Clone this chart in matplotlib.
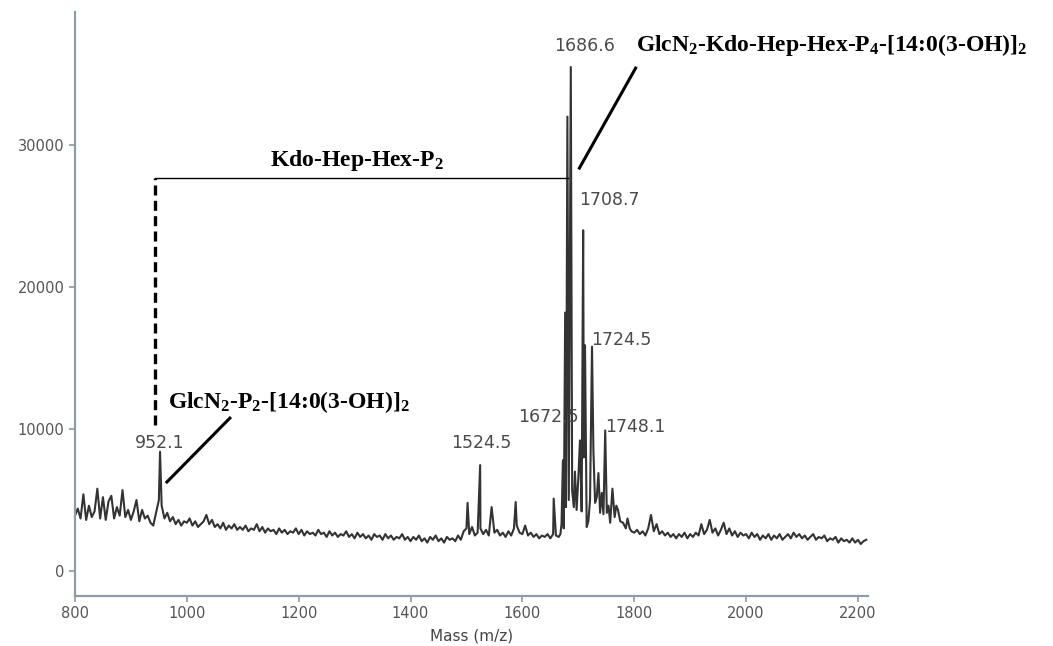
import numpy as np
import matplotlib
matplotlib.use("Agg")
import matplotlib.pyplot as plt

# mathtext subscripts in bold serif, to match the annotation text
plt.rcParams['mathtext.fontset'] = 'custom'
plt.rcParams['mathtext.rm'] = 'Liberation Serif:bold'
plt.rcParams['mathtext.it'] = 'Liberation Serif:italic:bold'
plt.rcParams['mathtext.bf'] = 'Liberation Serif:bold'

# baseline spectrum, read every 5 m/z from 800 to 2215
base_mass = np.arange(800, 2216, 5)
base_int = [
    3900, 4400, 3700, 5400, 3600, 4600, 3800, 4200, 5800, 3700, 5200, 3600, 4900, 5300, 3700, 4500, 3900, 5700, 3800, 4300,
    3600, 4200, 5000, 3500, 4300, 3700, 3900, 3400, 3200, 4100, 5000, 4600, 3700, 4100, 3500, 3800, 3300, 3600, 3200, 3500,
    3400, 3700, 3200, 3500, 3100, 3300, 3500, 3950, 3300, 3600, 3100, 3300, 3000, 3400, 2900, 3200, 3000, 3300, 2900, 3100,
    2900, 3200, 2800, 3000, 2900, 3300, 2800, 3100, 2700, 3000, 2800, 2900, 2600, 3000, 2700, 2900, 2600, 2800, 2700, 3000,
    2600, 2900, 2500, 2800, 2600, 2700, 2500, 2900, 2600, 2700, 2400, 2800, 2500, 2700, 2400, 2600, 2500, 2800, 2400, 2600,
    2300, 2700, 2400, 2600, 2300, 2500, 2200, 2600, 2400, 2500, 2200, 2600, 2300, 2500, 2200, 2400, 2300, 2600, 2200, 2400,
    2100, 2400, 2200, 2500, 2100, 2300, 2000, 2400, 2200, 2500, 2100, 2300, 2000, 2400, 2200, 2300, 2100, 2500, 2200, 2800,
    3000, 2600, 3100, 2500, 2700, 3000, 2600, 2900, 2500, 4500, 2700, 2900, 2500, 2700, 2400, 2800, 2500, 3000, 3200, 2700,
    2600, 3200, 2500, 2700, 2400, 2600, 2300, 2500, 2400, 2600, 2300, 2600, 2500, 2400, 3300, 3800, 3000, 3000, 3000, 3000,
    3000, 3000, 3000, 3000, 3000, 3000, 3000, 3000, 3000, 3000, 3000, 3000, 3000, 3000, 3000, 3000, 3000, 3000, 3000, 2800,
    2700, 2900, 2600, 2800, 2500, 3000, 3950, 2800, 3300, 2600, 2800, 2500, 2700, 2400, 2600, 2300, 2600, 2400, 2700, 2300,
    2600, 2400, 2700, 2500, 3300, 2600, 2900, 3600, 2700, 3000, 2500, 2900, 3400, 2600, 3000, 2500, 2800, 2400, 2700, 2500,
    2600, 2300, 2700, 2400, 2600, 2200, 2500, 2300, 2600, 2200, 2500, 2300, 2600, 2200, 2400, 2600, 2300, 2700, 2400, 2600,
    2300, 2500, 2200, 2400, 2600, 2200, 2400, 2300, 2500, 2100, 2300, 2200, 2400, 2000, 2300, 2100, 2200, 2000, 2300, 2000,
    2200, 1900, 2100, 2200,
]

# isolated peaks
peak_mass = [952.1, 1502, 1524.5, 1588, 1656]
peak_int = [8400, 4800, 7460, 4860, 5100]

# dense cluster around the main ions
cluster_mass = [1668, 1670, 1672.5, 1674, 1676.5, 1678, 1680.5, 1683, 1686.6, 1689, 1692, 1694, 1697,
                1700, 1703, 1706, 1708.7, 1710, 1712, 1715, 1718, 1721, 1724.5, 1727, 1730, 1733,
                1736, 1739, 1742, 1745, 1748.1, 1751, 1754, 1757, 1761, 1765, 1768, 1771, 1775,
                1780, 1785, 1788, 1792, 1795]
cluster_int = [2600, 3300, 7800, 3000, 18200, 4500, 32000, 5000, 35500, 5700, 4500, 7000, 4300,
               6500, 9200, 4200, 24000, 8000, 15900, 3100, 3500, 5000, 15800, 8500, 4800, 5200,
               6900, 4100, 5500, 4000, 9900, 4100, 4600, 3400, 5800, 3800, 4600, 4300, 3500,
               3400, 3000, 3700, 3000, 2800]

peak_labels = ["952.1", "1524.5", "1672.5", "1686.6", "1708.7", "1724.5", "1748.1"]
label_mass = [952, 1527, 1647, 1711, 1756, 1777.5, 1802.5]
label_int = [9010, 9010, 10850, 36970, 26130, 16270, 10140]

# merge everything into one sorted trace
keep = (base_mass < 1666) | (base_mass > 1797)
mass = np.concatenate([base_mass[keep], peak_mass, cluster_mass])
inten = np.concatenate([np.array(base_int)[keep], peak_int, cluster_int])
order = np.argsort(mass)
mass = mass[order]
inten = inten[order]

fig = plt.figure(figsize=(10.53, 6.46), dpi=100)
ax = fig.add_axes([0.0712, 0.0774, 0.7531, 0.904])

ax.plot(mass, inten, color='#333333', lw=1.5)

ax.set_xlim(800, 2218)
ax.set_ylim(-1760, 39370)
ax.set_xticks([800, 1000, 1200, 1400, 1600, 1800, 2000, 2200])
ax.set_yticks([0, 10000, 20000, 30000])

spine_col = '#8c9ba6'
for s in ['top', 'right']:
    ax.spines[s].set_visible(False)
for s in ['left', 'bottom']:
    ax.spines[s].set_color(spine_col)
    ax.spines[s].set_linewidth(1.6)
ax.tick_params(colors=spine_col, labelcolor='#555555', labelsize=10.5, length=4, width=1.2)
ax.set_xlabel("Mass (m/z)", fontsize=11, color='#444444', labelpad=5)

# peak labels
for txt, m, v in zip(peak_labels, label_mass, label_int):
    ax.text(m, v, txt, ha='center', va='center', fontsize=12.5, color='#4a4a4a')

# annotation: bracket between 952.1 and 1686.6
ax.plot([943, 943], [10280, 27680], color='black', lw=2.4, ls=(0, (3, 1.6)))
ax.plot([943, 1681], [27680, 27680], color='black', lw=1.0)
ax.text(1305, 28940, r"Kdo-Hep-Hex-P$_2$", ha='center', va='center',
        fontsize=17, fontweight='bold', family='Liberation Serif')

ax.plot([1702, 1802.5], [28380, 35420], color='black', lw=2.2)
ax.text(1802.5, 37040, r"GlcN$_2$-Kdo-Hep-Hex-P$_4$-[14:0(3-OH)]$_2$", ha='left', va='center',
        fontsize=17, fontweight='bold', family='Liberation Serif', clip_on=False)

ax.plot([964.4, 1077], [6270, 10770], color='black', lw=2.2)
ax.text(966, 11900, r"GlcN$_2$-P$_2$-[14:0(3-OH)]$_2$", ha='left', va='center',
        fontsize=17, fontweight='bold', family='Liberation Serif')

fig.savefig("out.png", dpi=100)
